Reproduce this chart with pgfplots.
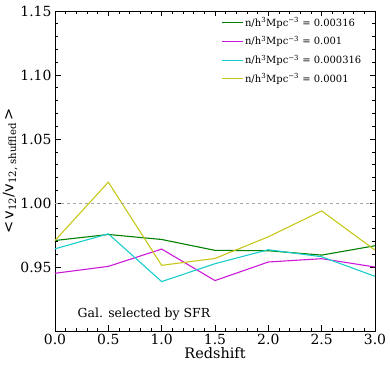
\documentclass[border=0pt]{standalone}
\usepackage{fontspec}
\setmainfont{DejaVu Serif}
\newfontfamily\dvsans{DejaVu Sans}
\usepackage{pgfplots}
\pgfplotsset{compat=1.18}
\usetikzlibrary{calc}
\definecolor{mplg}{rgb}{0,0.5,0}
\definecolor{mplm}{rgb}{0.8,0.1,0.85}
\definecolor{mplc}{rgb}{0.1,0.8,0.8}
\definecolor{mply}{rgb}{0.78,0.78,0.1}
\newcommand{\nlab}[1]{n/h\textsuperscript{3}Mpc\textsuperscript{−3} = #1}

\begin{document}
\begin{tikzpicture}
\begin{axis}[
  name=ax, scale only axis, width=320bp, height=320bp,
  xmin=0, xmax=3, ymin=0.90, ymax=1.15,
  xtick={0,0.5,...,3.0}, ytick={0.95,1.00,1.05,1.10,1.15},
  minor x tick num=4, minor y tick num=4,
  tick align=inside, tick pos=both,
  major tick length=5.5bp, minor tick length=3bp,
  every tick/.style={black, line width=0.6pt},
  /pgf/number format/assume math mode=true,
  xticklabel style={font=\fontsize{14}{16}\selectfont, /pgf/number format/.cd, fixed, fixed zerofill, precision=1},
  yticklabel style={font=\fontsize{14}{16}\selectfont, /pgf/number format/.cd, fixed, fixed zerofill, precision=2},
  xlabel={Redshift}, xlabel style={font=\fontsize{14.5}{16}\selectfont, yshift=4bp},
  ylabel={{\dvsans<\,v}\textsubscript{12}{\dvsans/v}\textsubscript{12, shuffled}{\dvsans\,>}},
  ylabel style={font=\fontsize{14.5}{16}\selectfont, yshift=-4bp},
  axis line style={black, line width=0.7pt},
  legend style={draw=none, fill=none, at={(rel axis cs:0.515,0.99)}, anchor=north west,
    font=\fontsize{10}{12}\selectfont, row sep=4.5bp, inner sep=1bp},
  legend cell align=left,
  legend image code/.code={\draw[#1] (0cm,0cm) -- (0.74cm,0cm);},
  every axis plot/.append style={line width=1.1pt},
]
\addplot[mplg] coordinates {(0,0.9707) (0.5,0.9754) (1.0,0.9715) (1.5,0.9630) (2.0,0.9627) (2.5,0.9593) (3.0,0.9666)};
\addlegendentry{\nlab{0.00316}}
\addplot[mplm] coordinates {(0,0.9451) (0.5,0.9505) (1.0,0.9640) (1.5,0.9394) (2.0,0.9539) (2.5,0.9565) (3.0,0.9500)};
\addlegendentry{\nlab{0.001}}
\addplot[mplc] coordinates {(0,0.9642) (0.5,0.9759) (1.0,0.9386) (1.5,0.9526) (2.0,0.9635) (2.5,0.9580) (3.0,0.9427)};
\addlegendentry{\nlab{0.000316}}
\addplot[mply] coordinates {(0,0.9707) (0.5,1.0163) (1.0,0.9513) (1.5,0.9567) (2.0,0.9736) (2.5,0.9938) (3.0,0.9632)};
\addlegendentry{\nlab{0.0001}}
\addplot[gray!70, dashed, line width=0.6pt, forget plot] coordinates {(0,1) (3,1)};
\node[anchor=west, font=\fontsize{12.5}{14}\selectfont] at (axis cs:0.18,0.913) {Gal. selected by SFR};
\end{axis}
\pgfresetboundingbox
\path ($(ax.south west)+(-55bp,-36bp)$) rectangle ($(ax.north east)+(15bp,11bp)$);
\end{tikzpicture}
\end{document}
